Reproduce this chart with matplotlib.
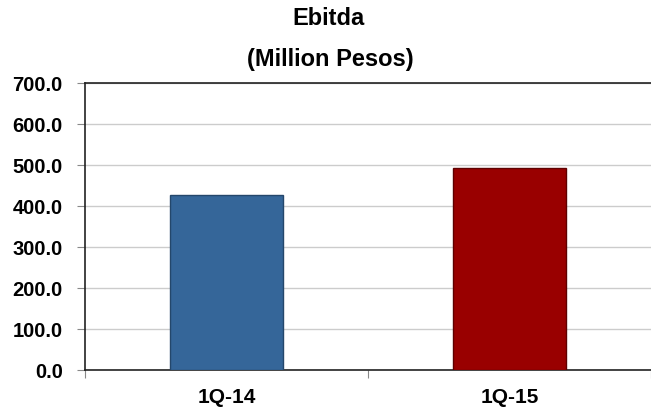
import matplotlib.pyplot as plt

plt.rcParams['font.family'] = ['Liberation Sans', 'DejaVu Sans']

quarters = ['1Q-14', '1Q-15']
ebitda = [427.0, 493.0]
bar_colors = ['#356699', '#990000']
edge_colors = ['#24476b', '#5e0000']
y_ticks = [0, 100, 200, 300, 400, 500, 600, 700]

fig = plt.figure(figsize=(6.51, 4.08), dpi=100)
ax = fig.add_axes([0.1306, 0.093, 0.8694, 0.703])

x = range(len(quarters))
ax.bar(x, ebitda, width=0.40, color=bar_colors, edgecolor=edge_colors,
       linewidth=1.0, zorder=3)

ax.set_xlim(-0.5, 1.48)
ax.set_ylim(0, 700)
ax.set_yticks(y_ticks)
ax.set_yticklabels([f'{v:.1f}' for v in y_ticks], fontsize=14.5, fontweight='bold')
ax.set_xticks(list(x))
ax.set_xticklabels(quarters, fontsize=15, fontweight='bold')
ax.set_xticks([-0.5, 0.5, 1.5], minor=True)

ax.tick_params(axis='x', which='major', length=0, pad=13)
ax.tick_params(axis='x', which='minor', length=6, color='#888888', width=0.8)
ax.tick_params(axis='y', length=6, color='#888888', width=0.8, pad=10)

ax.grid(axis='y', color='#cccccc', linewidth=1.0, zorder=0)
for side in ['left', 'bottom', 'top']:
    ax.spines[side].set_color('#222222')
    ax.spines[side].set_linewidth(1.2)
ax.spines['right'].set_visible(False)

fig.text(0.504, 0.955, 'Ebitda', ha='center', va='center',
         fontsize=17, fontweight='bold')
fig.text(0.507, 0.855, '(Million Pesos)', ha='center', va='center',
         fontsize=17, fontweight='bold')

fig.savefig('out.png', dpi=100)
